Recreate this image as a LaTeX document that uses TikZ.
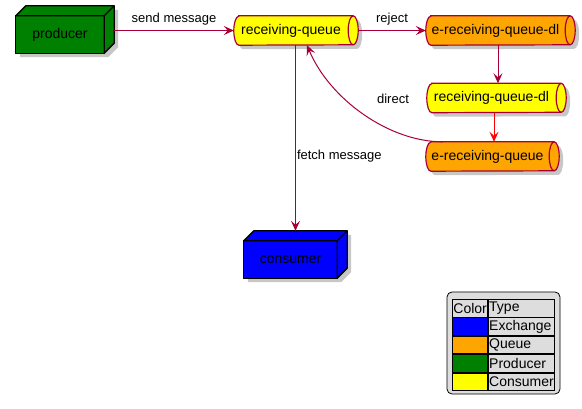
\documentclass[tikz,border=0pt]{standalone}
\usepackage{fontspec}
\setmainfont{Liberation Sans}
\usetikzlibrary{arrows.meta,backgrounds,calc}
\definecolor{edgec}{HTML}{A80036}
\definecolor{qorange}{HTML}{FFA500}
\definecolor{pgreen}{HTML}{008000}
\definecolor{cblue}{HTML}{0000FF}
\definecolor{qyellow}{HTML}{FFFF00}
\definecolor{legbg}{HTML}{DDDDDD}
\newcommand\qrx{5pt}
\newcommand\qry{14.5pt}
\tikzset{
  conn/.style={draw=edgec, line width=1pt, -{Stealth[length=10pt,width=9pt,inset=4pt]}},
  lbl/.style={font=\fontsize{13}{15}\selectfont, inner sep=1pt, text=black},
  qnode/.style={minimum height=29pt, inner sep=0pt, font=\fontsize{14}{16}\selectfont, text=black},
  qline/.style={draw=edgec, line width=1.2pt},
  bnode/.style={inner sep=0pt, font=\fontsize{14}{16}\selectfont, text=black},
  boxl/.style={draw=black, line width=1.3pt, line join=round},
  shadowfill/.style={fill=black, opacity=0.22},
  cell/.style={draw=black, line width=0.8pt, minimum height=17.6pt, inner xsep=1pt, inner ysep=0pt,
     anchor=north west, font=\fontsize{14}{16}\selectfont, align=left},
}
\newcommand\queueshape[2]{%
  \begin{scope}[on background layer]
    \fill[shadowfill, transform canvas={shift={(4pt,-4pt)}}]
      ([xshift=\qrx]#1.north west) -- ([xshift=\qrx]#1.north east)
      arc[start angle=90,end angle=-90,x radius=\qrx,y radius=\qry]
      -- ([xshift=\qrx]#1.south west)
      arc[start angle=270,end angle=90,x radius=\qrx,y radius=\qry] -- cycle;
    \draw[qline, fill=#2]
      ([xshift=\qrx]#1.north west) -- ([xshift=\qrx]#1.north east)
      arc[start angle=90,end angle=-90,x radius=\qrx,y radius=\qry]
      -- ([xshift=\qrx]#1.south west)
      arc[start angle=270,end angle=90,x radius=\qrx,y radius=\qry] -- cycle;
    \draw[qline] ([xshift=\qrx]#1.north east)
      arc[start angle=90,end angle=270,x radius=\qrx,y radius=\qry];
  \end{scope}}
\newcommand\boxshape[2]{%
  \begin{scope}[on background layer]
    \fill[shadowfill, transform canvas={shift={(4pt,-4pt)}}]
      (#1.south west) -- (#1.north west) -- ++(10,-10)
      -- ([shift={(10,-10)}]#1.north east) -- ([shift={(10,-10)}]#1.south east)
      -- (#1.south east) -- cycle;
    \draw[boxl, fill=#2] (#1.south west) rectangle (#1.north east);
    \draw[boxl, fill=#2] (#1.north west) -- ++(10,-10)
      -- ([shift={(10,-10)}]#1.north east) -- ([shift={(10,-10)}]#1.south east)
      -- (#1.south east) -- (#1.north east) -- cycle;
    \draw[boxl] (#1.north east) -- ++(10,-10);
  \end{scope}}
\begin{document}
\begin{tikzpicture}[x=1pt,y=-1pt]
\begin{scope}[on background layer]
  \fill[white] (0,0) rectangle (582,409);
\end{scope}
\useasboundingbox (0,0) rectangle (582,409);

% nodes
\node[bnode, minimum width=88pt, minimum height=37pt] (p) at (60,34.5) {producer};
\node[bnode, minimum width=93pt, minimum height=37pt] (c) at (290.5,259.5) {consumer};
\node[qnode, minimum width=114pt] (rq) at (291,30.5) {receiving-queue};
\node[qnode, minimum width=139pt] (edl) at (495.5,30.5) {e-receiving-queue-dl};
\node[qnode, minimum width=129pt] (rqdl) at (491.5,98) {receiving-queue-dl};
\node[qnode, minimum width=123pt] (erq) at (487.5,156.5) {e-receiving-queue};

\boxshape{p}{pgreen}
\boxshape{c}{cblue}
\queueshape{rq}{qyellow}
\queueshape{edl}{qorange}
\queueshape{rqdl}{qyellow}
\queueshape{erq}{qorange}

% connectors
\draw[conn] ([xshift=10pt]p.east |- rq.west) -- node[lbl, above=4pt] {send message} (rq.west);
\draw[conn] ([xshift=10pt]rq.east) -- node[lbl, above=4pt] {reject} (edl.west);
\draw[conn] ([xshift=2.5pt]edl.south) -- ([xshift=6.5pt]rqdl.north);
\draw[conn, draw=red] ([xshift=2.5pt]rqdl.south) -- ([xshift=6.5pt]erq.north);
\draw[conn] ([xshift=17pt]erq.north west) .. controls (390,142) and (330,100) .. ([xshift=16pt]rq.south);
\node[lbl] (dlbl) at (393,99) {direct};
\draw[conn] ([xshift=4.5pt]rq.south) -- node[lbl, pos=0.6, anchor=west] {fetch message} ([shift={(5,-10)}]c.north);

% legend
\node[draw=black, line width=0.8pt, fill=legbg, rounded corners=5pt, minimum width=113pt, minimum height=102pt, inner sep=0pt] (leg) at (503.5,343) {};
\node[cell, minimum width=35pt, text width=33pt] (h1) at (452,299) {Color};
\node[cell, minimum width=66pt, text width=64pt, anchor=north west] (h2) at (h1.north east) {Type};
\node[cell, minimum width=35pt, fill=cblue] (k1) at (h1.south west) {};
\node[cell, minimum width=66pt, text width=64pt] (t1) at (k1.north east) {Exchange};
\node[cell, minimum width=35pt, fill=qorange] (k2) at (k1.south west) {};
\node[cell, minimum width=66pt, text width=64pt] (t2) at (k2.north east) {Queue};
\node[cell, minimum width=35pt, fill=pgreen] (k3) at (k2.south west) {};
\node[cell, minimum width=66pt, text width=64pt] (t3) at (k3.north east) {Producer};
\node[cell, minimum width=35pt, fill=qyellow] (k4) at (k3.south west) {};
\node[cell, minimum width=66pt, text width=64pt] (t4) at (k4.north east) {Consumer};
\end{tikzpicture}
\end{document}
